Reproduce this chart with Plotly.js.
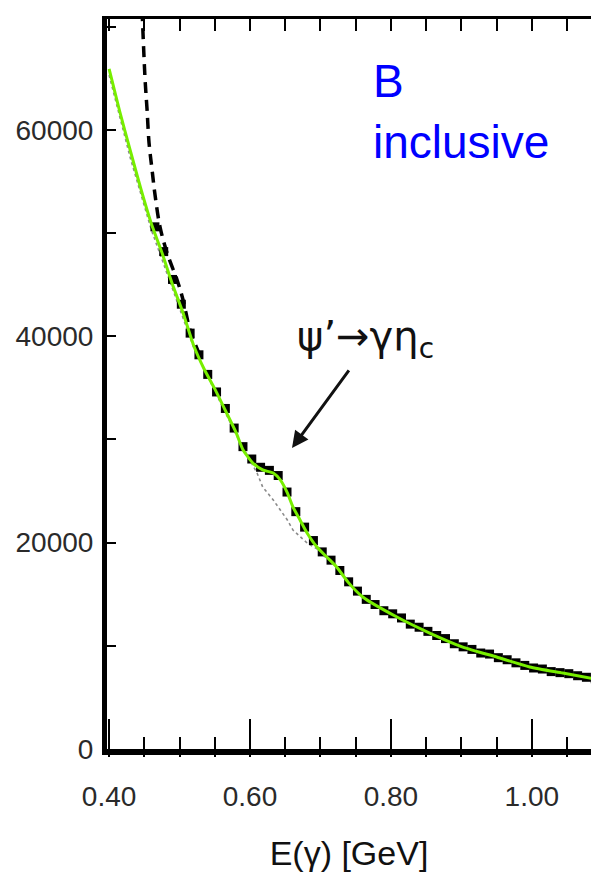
<!DOCTYPE html>
<html><head><meta charset="utf-8">
<script src="https://cdn.plot.ly/plotly-3.0.1.min.js"></script>
<style>html,body{margin:0;padding:0;background:#fff;overflow:hidden;} #chart{width:591px;height:877px;}</style>
</head><body><div id="chart"></div>
<script>
// Total fit (green)
const fitX = [0.400,0.415,0.430,0.445,0.460,0.475,0.490,0.505,0.520,0.535,0.550,0.565,0.580,0.590,0.604,0.618,0.633,0.643,0.653,0.661,0.671,0.681,0.695,0.709,0.723,0.740,0.760,0.8085,0.855,0.902,0.950,0.997,1.044,1.085];
const fitY = [65900,61800,58000,54300,50900,48100,45000,42250,39100,36800,34900,32800,30700,29000,27710,27040,26740,26070,24810,23450,22190,20930,19570,18600,17640,16100,14730,12790,11240,9880,8910,7950,7360,6850];
// Background (grey dotted)
const bgX = [0.400,0.430,0.460,0.490,0.520,0.550,0.580,0.595,0.610,0.618,0.633,0.643,0.653,0.661,0.671,0.681,0.695,0.710];
const bgY = [65300,57300,50300,44600,38900,34700,30500,28600,26740,25390,24130,23160,22190,21220,20540,19960,19400,18400];
// Dashed component
const dashX = [0.4468,0.4511,0.4539,0.4567,0.4610,0.4652,0.4723,0.4823,0.4965,0.5050,0.5149,0.5291];
const dashY = [71610,64830,61920,58720,56100,53680,50580,48060,45450,43510,40600,38100];
// Data points (black squares)
const dataX = [0.4650,0.4775,0.4900,0.5025,0.5150,0.5275,0.5400,0.5525,0.5650,0.5775,0.5900,0.6025,0.6150,0.6275,0.6400,0.6525,0.6650,0.6775,0.6900,0.7025,0.7150,0.7275,0.7400,0.7525,0.7650,0.7775,0.7900,0.8025,0.8150,0.8275,0.8400,0.8525,0.8650,0.8775,0.8900,0.9025,0.9150,0.9275,0.9400,0.9525,0.9650,0.9775,0.9900,1.0025,1.0150,1.0275,1.0400,1.0525,1.0650,1.0775,1.0900];
const dataY = [50600,48200,45500,43100,40300,38200,36300,34600,33000,31100,29300,28100,27300,27000,26500,24900,23000,21500,20200,19100,18300,17300,16200,15300,14500,14000,13400,13100,12700,12100,11800,11400,11000,10700,10200,9900,9650,9300,9200,8850,8650,8350,8100,7850,7750,7500,7400,7300,7100,6950,6800];
const xTickVals = [0.4,0.6,0.8,1.0];
const xTickText = ['0.40','0.60','0.80','1.00'];
const yTickVals = [0,20000,40000,60000];
const yTickText = ['0','20000','40000','60000'];

const sans = '"Liberation Sans", Arial, sans-serif';
const xRange = [0.397, 1.084];

const traces = [
  {x: bgX, y: bgY, mode: 'lines', line: {color: '#8a8a8a', width: 1.6, dash: 'dot'}, hoverinfo: 'skip'},
  {x: dashX, y: dashY, mode: 'lines', line: {color: '#000', width: 3.5, dash: '11px,7px', shape: 'spline'}, hoverinfo: 'skip'},
  {x: dataX, y: dataY, mode: 'markers', marker: {symbol: 'square', size: 9, color: '#000'}, hoverinfo: 'skip'},
  {x: fitX, y: fitY, mode: 'lines', line: {color: '#77ee00', width: 3, shape: 'spline', smoothing: 0.6}, hoverinfo: 'skip'},
  // empty traces so that the frame axes (top line, outer tick stubs) are drawn
  {x: [], y: [], xaxis: 'x2', yaxis: 'y', mode: 'lines', hoverinfo: 'skip'},
  {x: [], y: [], xaxis: 'x3', yaxis: 'y', mode: 'lines', hoverinfo: 'skip'}
];

const layout = {
  width: 591, height: 877,
  margin: {l: 107, r: 0, t: 19, b: 128},
  paper_bgcolor: '#fff', plot_bgcolor: 'rgba(0,0,0,0)',
  showlegend: false,
  font: {family: sans, color: '#222'},
  xaxis: {
    range: xRange, showgrid: false, zeroline: false,
    showline: true, linecolor: '#000', linewidth: 6,
    ticks: 'inside', ticklen: 30, tickwidth: 2, tickcolor: '#000',
    tickvals: xTickVals, ticktext: xTickText,
    minor: {ticks: 'inside', ticklen: 12, tickwidth: 2, tickcolor: '#000', dtick: 0.05, tick0: 0.4},
    tickfont: {family: sans, size: 28, color: '#2a2a2a'},
    ticklabelstandoff: 17,
    title: {text: 'E(γ) [GeV]', font: {family: sans, size: 34, color: '#111'}, standoff: 33}
  },
  xaxis2: {
    overlaying: 'x', side: 'top', anchor: 'y', range: xRange,
    showgrid: false, zeroline: false, showline: true, linecolor: '#000', linewidth: 3,
    ticks: 'inside', ticklen: 12, tickwidth: 2, tickcolor: '#000', dtick: 0.05, tick0: 0.4,
    showticklabels: false
  },
  xaxis3: {
    overlaying: 'x', side: 'bottom', anchor: 'y', range: xRange,
    showgrid: false, zeroline: false, showline: false,
    ticks: 'outside', ticklen: 7, tickwidth: 2, tickcolor: '#000', dtick: 0.05, tick0: 0.4,
    showticklabels: false
  },
  yaxis: {
    range: [0, 70740], showgrid: false, zeroline: false,
    showline: true, linecolor: '#000', linewidth: 5,
    ticks: 'inside', ticklen: 9, tickwidth: 2, tickcolor: '#000',
    tickvals: yTickVals, ticktext: yTickText,
    minor: {ticks: 'inside', ticklen: 9, tickwidth: 2, tickcolor: '#000', dtick: 10000, tick0: 0},
    tickfont: {family: sans, size: 28, color: '#2a2a2a'},
    ticklabelstandoff: 3
  },
  annotations: [
    {xref: 'paper', yref: 'paper', x: 0.546, y: 0.915, xanchor: 'left', yanchor: 'middle',
     text: 'B', showarrow: false, font: {family: sans, size: 46, color: '#0000ff'}},
    {xref: 'paper', yref: 'paper', x: 0.546, y: 0.832, xanchor: 'left', yanchor: 'middle',
     text: 'inclusive', showarrow: false, font: {family: sans, size: 46, color: '#0000ff'}},
    {xref: 'paper', yref: 'paper', x: 0.388, y: 0.562, xanchor: 'left', yanchor: 'middle',
     text: 'ψ’→γη<sub>c</sub>', showarrow: false, font: {family: '"DejaVu Sans", sans-serif', size: 40, color: '#111'}},
    {x: 0.6596, y: 29170, xref: 'x', yref: 'y', text: '', showarrow: true,
     ax: 58, ay: -79, arrowhead: 2, arrowsize: 1.1, arrowwidth: 3, arrowcolor: '#111', standoff: 0}
  ]
};

Plotly.newPlot('chart', traces, layout, {staticPlot: true, displayModeBar: false});
</script>
</body></html>
